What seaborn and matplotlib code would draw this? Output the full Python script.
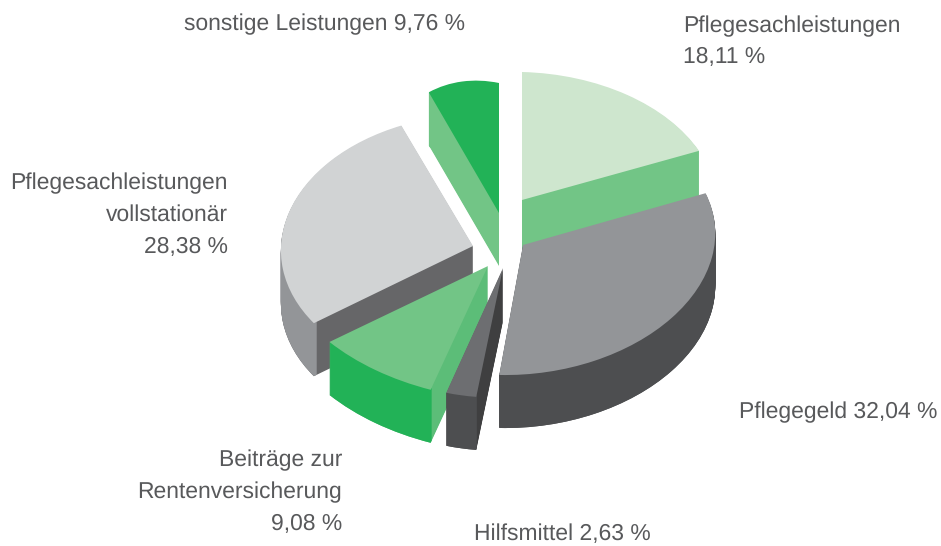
import matplotlib
matplotlib.use('Agg')
import matplotlib.pyplot as plt
from matplotlib.transforms import Affine2D
import seaborn as sns

# shares in percent, clockwise from twelve o'clock
categories = ['Pflegesachleistungen', 'Pflegegeld', 'Hilfsmittel',
              'Beiträge zur Rentenversicherung', 'Pflegesachleistungen vollstationär',
              'sonstige Leistungen']
shares = [18.11, 32.04, 2.63, 9.08, 28.38, 9.76]

top_colors = sns.color_palette(['#cee6ce', '#939598', '#6d6e71', '#72c586', '#d1d3d4', '#22b257'])
rim_colors = sns.color_palette(['#72c586', '#4d4e50', '#4d4e50', '#22b257', '#939598', '#22b257'])
wall_colors = sns.color_palette(['#72c586', '#4d4e50', '#3f3f40', '#5cbd78', '#666668', '#72c586'])

# how each slice sits on the page: (a, b, c, d, apex x, apex y), fake 3d tilt
# x = a*X + b*Ydown, y = c*X + d*Ydown
placement = [
    (195, 0, 5, 128, 522, 200),
    (191, -22, 3, 130, 523, 245),
    (185, -25, 13, 129, 503, 268),
    (211, -21, 30, 131, 488, 266),
    (187, -44, 26, 129, 473, 246),
    (122, 0, 25, 130, 499, 213),
]
draw_order = [5, 0, 4, 3, 2, 1]
back_slices = [0, 5]  # their cut faces hide the rim
depth = 53

sns.set_theme(style='white')
plt.rcParams['font.family'] = ['Liberation Sans', 'DejaVu Sans']
plt.rcParams['text.hinting'] = 'none'

fig = plt.figure(figsize=(9.41, 5.46), dpi=100)
ax = fig.add_axes([0, 0, 1, 1])


def draw_slice(i, color, shift=0, width=None):
    props = {'linewidth': 0}
    if width:
        props['width'] = width
    wedges, _ = ax.pie(shares, colors=[color], startangle=90, counterclock=False,
                       wedgeprops=props)
    a, b, c, d, x0, y0 = placement[i]
    tr = Affine2D.from_values(a, c, -b, -d, x0, y0 + shift)
    for j, w in enumerate(wedges):
        if j == i:
            w.set_transform(tr + ax.transData)
            w.set_clip_on(False)
        else:
            w.remove()


def draw_stack(i, color, width=None):
    for shift in range(depth, 0, -1):
        draw_slice(i, color, shift, width)


for i in draw_order:
    if i in back_slices:
        draw_stack(i, rim_colors[i], 0.02)
        draw_stack(i, wall_colors[i])
    else:
        draw_stack(i, wall_colors[i])
        draw_stack(i, rim_colors[i], 0.02)
    draw_slice(i, top_colors[i])

ax.set_aspect('auto')
ax.set_xlim(0, 941)
ax.set_ylim(546, 0)
ax.axis('off')

txt = dict(color='#58595b', fontsize=16.5, va='center')
ax.text(325, 24, 'sonstige Leistungen 9,76 %', ha='center', **txt)
ax.text(683, 42, 'Pflegesachleistungen\n18,11 %', ha='left', linespacing=1.55, **txt)
ax.text(228, 215, 'Pflegesachleistungen\nvollstationär\n28,38 %', ha='right', linespacing=1.62, **txt)
ax.text(838, 412, 'Pflegegeld 32,04 %', ha='center', **txt)
ax.text(342, 492, 'Beiträge zur\nRentenversicherung\n9,08 %', ha='right', linespacing=1.62, **txt)
ax.text(562, 534, 'Hilfsmittel 2,63 %', ha='center', **txt)

fig.savefig('out.png', dpi=100)
